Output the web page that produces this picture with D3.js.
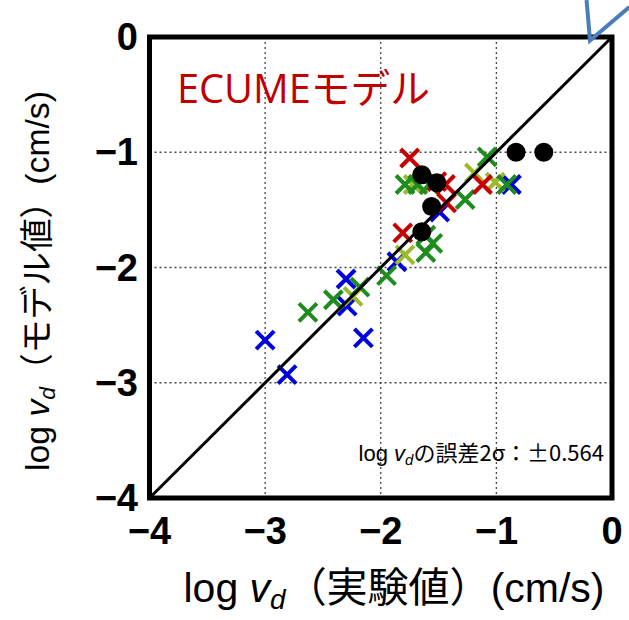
<!DOCTYPE html>
<html lang="ja">
<head>
<meta charset="utf-8">
<title>ECUME</title>
<script src="https://cdnjs.cloudflare.com/ajax/libs/d3/7.8.5/d3.min.js"></script>
<style>
  body { margin: 0; background: #fff; }
  svg { display: block; }
</style>
</head>
<body>
<script>
// data: [log vd experimental, log vd model]
var blackDots = [[-0.83,-1.00],[-0.59,-1.00],[-1.645,-1.195],[-1.515,-1.264],[-1.56,-1.47],[-1.645,-1.69]];
var blueX = [[-3.0,-2.63],[-2.81,-2.93],[-2.15,-2.61],[-2.30,-2.10],[-2.29,-2.335],[-1.86,-1.95],[-1.49,-1.52],[-0.87,-1.28]];
var greenX = [[-2.63,-2.39],[-2.41,-2.28],[-2.18,-2.17],[-1.95,-2.07],[-1.61,-1.72],[-1.55,-1.79],[-1.61,-1.87],
              [-1.79,-1.28],[-1.68,-1.28],[-1.58,-1.28],[-1.08,-1.04],[-1.27,-1.41],[-0.91,-1.28]];
var ygreenX = [[-1.19,-1.18],[-1.01,-1.26],[-1.79,-1.89],[-2.24,-2.25],[-1.72,-1.28]];
var redX = [[-1.75,-1.05],[-1.515,-1.255],[-1.44,-1.28],[-1.43,-1.44],[-1.12,-1.28],[-1.81,-1.70]];
var ticks = [-4,-3,-2,-1,0];
var gridTicks = [-3,-2,-1];

var width = 629, height = 620;
var x = d3.scaleLinear().domain([-4, 0]).range([149.5, 612]);
var y = d3.scaleLinear().domain([-4, 0]).range([498, 37]);

var svg = d3.select("body").append("svg")
    .attr("width", width)
    .attr("height", height);

// scale a text's font size so it spans the given width
function fitWidth(sel, w) {
  var cur = sel.node().getComputedTextLength();
  var fs = parseFloat(sel.attr("font-size"));
  sel.attr("font-size", fs * w / cur);
}

// grid
svg.selectAll(".vgrid").data(gridTicks).enter().append("line")
    .attr("x1", function(d){ return x(d); }).attr("x2", function(d){ return x(d); })
    .attr("y1", y(0)).attr("y2", y(-4))
    .attr("stroke", "#444").attr("stroke-width", 1.3).attr("stroke-dasharray", "2,3");
svg.selectAll(".hgrid").data(gridTicks).enter().append("line")
    .attr("y1", function(d){ return y(d); }).attr("y2", function(d){ return y(d); })
    .attr("x1", x(-4)).attr("x2", x(0))
    .attr("stroke", "#444").attr("stroke-width", 1.3).attr("stroke-dasharray", "2,3");

// crosses
function crosses(data, color) {
  var r = 9;
  svg.append("g").selectAll("path").data(data).enter().append("path")
    .attr("d", function(d){
      var cx = x(d[0]), cy = y(d[1]);
      return "M" + (cx-r) + "," + (cy-r) + "L" + (cx+r) + "," + (cy+r) +
             "M" + (cx-r) + "," + (cy+r) + "L" + (cx+r) + "," + (cy-r);
    })
    .attr("stroke", color).attr("stroke-width", 4).attr("fill", "none");
}
crosses(blueX, "#0000dd");
crosses(ygreenX, "#9cbb2c");
crosses(greenX, "#1e8c1e");
crosses(redX, "#c80000");

svg.append("g").selectAll("circle").data(blackDots).enter().append("circle")
    .attr("cx", function(d){ return x(d[0]); })
    .attr("cy", function(d){ return y(d[1]); })
    .attr("r", 9.5).attr("fill", "#000");

// 1:1 line
svg.append("line")
    .attr("x1", x(-4)).attr("y1", y(-4)).attr("x2", x(0)).attr("y2", y(0))
    .attr("stroke", "#000").attr("stroke-width", 3);

// frame
svg.append("rect")
    .attr("x", x(-4)).attr("y", y(0))
    .attr("width", x(0) - x(-4)).attr("height", y(-4) - y(0))
    .attr("fill", "none").attr("stroke", "#000").attr("stroke-width", 5);

// tick labels
var tickFont = "'Liberation Sans', Arial, sans-serif";
function fmt(d){ return d < 0 ? "\u2212" + Math.abs(d) : String(d); }
svg.selectAll(".xt").data(ticks).enter().append("text")
    .attr("x", function(d){ return x(d); })
    .attr("y", 544)
    .attr("text-anchor", "middle")
    .attr("font-family", tickFont).attr("font-weight", "bold").attr("font-size", 38)
    .text(fmt);
svg.selectAll(".yt").data(ticks).enter().append("text")
    .attr("x", 138)
    .attr("y", function(d){ return y(d) + 13; })
    .attr("text-anchor", "end")
    .attr("font-family", tickFont).attr("font-weight", "bold").attr("font-size", 38)
    .text(fmt);

// axis titles
var titleFont = "'Liberation Sans', Arial, 'Noto Sans CJK JP', sans-serif";
function vdLabel(t, rest) {
  t.append("tspan").text("log ");
  t.append("tspan").attr("font-style", "italic").text("v");
  t.append("tspan").attr("font-style", "italic").attr("font-size", "0.68em").attr("dy", "0.25em").text("d");
  return t.append("tspan").attr("dy", "-0.17em").attr("font-family", "'Noto Sans CJK JP'").text(rest);
}
var xt = svg.append("text")
    .attr("x", 394).attr("y", 602)
    .attr("text-anchor", "middle")
    .attr("font-family", titleFont).attr("font-size", 31);
vdLabel(xt, "（実験値）");
xt.append("tspan").text("(cm/s)");
fitWidth(xt, 421);

var yt = svg.append("text")
    .attr("transform", "translate(49,281) rotate(-90)")
    .attr("text-anchor", "middle")
    .attr("font-family", titleFont).attr("font-size", 31);
vdLabel(yt, "（モデル値）");
yt.append("tspan").text("(cm/s)");
fitWidth(yt, 380);

// annotations
var ec = svg.append("text")
    .attr("x", 177).attr("y", 103)
    .attr("font-family", "'Open Sans', 'Noto Sans CJK JP', sans-serif")
    .attr("font-size", 33).attr("fill", "#c00000")
    .text("ECUMEモデル");
fitWidth(ec, 253);

var an = svg.append("text")
    .attr("x", 604).attr("y", 461)
    .attr("text-anchor", "end")
    .attr("font-family", titleFont).attr("font-size", 22);
vdLabel(an, "の誤差2σ：±0.564");

// blue arrow fragment at top-right corner
var arrow = [[-0.22, 0.32], [-0.19, -0.03], [0.15, 0.26]];
svg.append("path")
    .attr("d", d3.line().x(function(d){ return x(d[0]); }).y(function(d){ return y(d[1]); })(arrow))
    .attr("stroke", "#4a7ebb").attr("stroke-width", 4).attr("fill", "none");
</script>
</body>
</html>
